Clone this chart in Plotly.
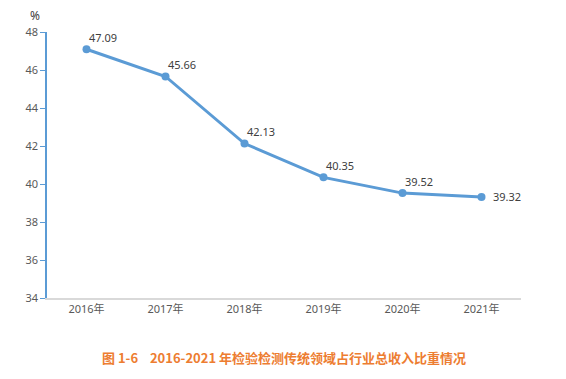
import plotly.graph_objects as go

years = ["2016年", "2017年", "2018年", "2019年", "2020年", "2021年"]
values = [47.09, 45.66, 42.13, 40.35, 39.52, 39.32]
y_ticks = [34, 36, 38, 40, 42, 44, 46, 48]
title = "图 1-6    2016-2021 年检验检测传统领域占行业总收入比重情况"

font_family = "Noto Sans, Noto Sans CJK SC, sans-serif"

fig = go.Figure(go.Scatter(
    x=years, y=values,
    mode="lines+markers",
    line=dict(color="#5B9BD5", width=3),
    marker=dict(color="#5B9BD5", size=8),
    cliponaxis=False,
    hoverinfo="skip",
))

label_annotations = []
for i, (yr, v) in enumerate(zip(years, values)):
    last = i == len(values) - 1
    label_annotations.append(dict(
        x=yr, y=v, xref="x", yref="y", text=f"{v:.2f}", showarrow=False,
        xanchor="left", yanchor="middle",
        xshift=9 if last else 0, yshift=0 if last else 12,
        font=dict(size=11, color="#404040", family=font_family),
    ))

fig.update_layout(
    width=566, height=379,
    margin=dict(l=47, r=45, t=32, b=81),
    paper_bgcolor="white", plot_bgcolor="white",
    showlegend=False,
    font=dict(family=font_family, color="#595959", size=11),
    xaxis=dict(
        type="category", showgrid=False, showline=True, linecolor="#D9D9D9", linewidth=1.5,
        ticks="", tickfont=dict(size=11, color="#595959"), range=[-0.5, 5.5], fixedrange=True,
    ),
    yaxis=dict(
        range=[34, 48], tickvals=y_ticks, showgrid=False, zeroline=False,
        showline=True, linecolor="#5B9BD5", linewidth=1.5,
        ticks="outside", ticklen=5, tickcolor="#5B9BD5",
        tickfont=dict(size=11, color="#595959"), fixedrange=True,
    ),
    annotations=label_annotations + [
        dict(text="%", xref="paper", yref="paper", x=-0.025, y=1.0, yshift=17,
             showarrow=False, font=dict(size=12, color="#404040"), xanchor="center", yanchor="middle"),
        dict(text=f"<b>{title}</b>", xref="paper", yref="paper", x=0.5, y=0, yshift=-59,
             showarrow=False, font=dict(size=13, color="#ED7D31", family="Noto Sans CJK SC, sans-serif"),
             xanchor="center", yanchor="middle"),
    ],
)

fig.write_html("out.html", config={"displayModeBar": False},
               post_script="document.body.style.margin='0';document.body.style.padding='0';")
